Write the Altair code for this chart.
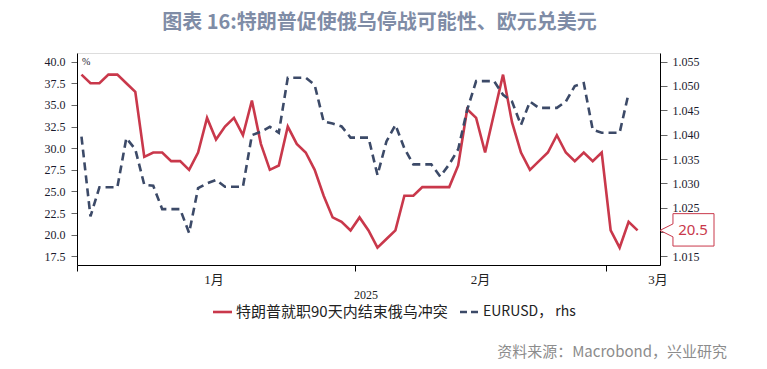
import altair as alt
import pandas as pd

# ---------------- data ----------------
dates = [f"{d:%Y-%m-%d}T12:00:00" for d in pd.date_range("2025-01-01", periods=63, freq="D")]

polymarket = [38.5, 37.5, 37.5, 38.5, 38.5, 37.5, 36.5, 29.0, 29.5, 29.5,
              28.5, 28.5, 27.5, 29.5, 33.5, 31.0, 32.5, 33.5, 31.5, 35.5,
              30.5, 27.5, 28.0, 32.5, 30.5, 29.5, 27.5, 24.5, 22.0, 21.5,
              20.5, 22.0, 20.5, 18.5, 19.5, 20.5, 24.5, 24.5, 25.5, 25.5,
              25.5, 25.5, 28.0, 34.5, 33.5, 29.5, 34.0, 38.5, 33.0, 29.5,
              27.5, 28.5, 29.5, 31.5, 29.5, 28.5, 29.5, 28.5, 29.5, 20.5,
              18.5, 21.5, 20.5]

eurusd = [1.0396, 1.0232, 1.0292, 1.0292, 1.0292, 1.0393, 1.0370, 1.0297, 1.0295, 1.0247,
          1.0247, 1.0247, 1.0198, 1.0290, 1.0300, 1.0307, 1.0293, 1.0293, 1.0293, 1.0399,
          1.0406, 1.0416, 1.0404, 1.0517, 1.0517, 1.0517, 1.0502, 1.0427, 1.0423, 1.0417,
          1.0394, 1.0394, 1.0394, 1.0317, 1.0386, 1.0420, 1.0372, 1.0339, 1.0339, 1.0339,
          1.0314, 1.0339, 1.0370, 1.0451, 1.0510, 1.0510, 1.0510, 1.0482, 1.0468, 1.0420,
          1.0468, 1.0455, 1.0455, 1.0455, 1.0468, 1.0500, 1.0506, 1.0410, 1.0404, 1.0404,
          1.0404, 1.0485, None]

month_labels = ["1月", "2月", "3月"]
month_label_pos = ["2025-01-16T06:30:00", "2025-02-15T00:00:00", "2025-03-06T18:30:00"]

left_ticks = [17.5, 20.0, 22.5, 25.0, 27.5, 30.0, 32.5, 35.0, 37.5, 40.0]
right_ticks = [1.015, 1.020, 1.025, 1.030, 1.035, 1.040, 1.045, 1.050, 1.055]

title_text = "图表 16:特朗普促使俄乌停战可能性、欧元兑美元"
series1_name = "特朗普就职90天内结束俄乌冲突"
series2_name = "EURUSD， rhs"
source_text = "资料来源：Macrobond，兴业研究"
year_text = "2025"

# ---------------- styles ----------------
RED = "#c9384b"
NAVY = "#3c4a68"
SERIF = "Liberation Serif, Noto Sans CJK SC"
CJK = "Noto Sans CJK SC"

df = pd.DataFrame({"date": dates, "pm": polymarket, "eur": eurusd})
last_df = pd.DataFrame({"pm": [polymarket[-1]], "label": [f"{polymarket[-1]}"]})
month_df = pd.DataFrame({"m": month_labels, "d": month_label_pos})
one = pd.DataFrame({"a": [0]})

x_dom = [alt.DateTime(year=2025, month=1, date=1), alt.DateTime(year=2025, month=3, date=7)]
x_scale = alt.Scale(domain=x_dom)
x_axis = alt.Axis(
    title=None, labels=False, grid=False, domainColor="#000", tickColor="#000",
    tickSize=6, values=[alt.DateTime(year=2025, month=m, date=1) for m in (1, 2, 3)],
)

left_scale = alt.Scale(domain=[16.5, 41.0], nice=False, zero=False)
right_scale = alt.Scale(domain=[1.0132222, 1.0567778], nice=False, zero=False)

left_axis = alt.Axis(
    title=None, values=left_ticks, format=".1f", grid=False, domainColor="#000",
    tickColor="#666", tickSize=6, labelPadding=6, labelFont=SERIF, labelFontSize=12,
    labelColor="#1a1a2e", labelOverlap=False, labelFlush=False)
left_y = alt.Y("pm:Q", scale=left_scale, axis=left_axis)

red_line = alt.Chart(df).mark_line(color=RED, strokeWidth=2.6).encode(
    x=alt.X("date:T", scale=x_scale, axis=x_axis), y=left_y)

callout_box = alt.Chart(last_df).mark_point(
    shape="M -1 0 L -0.52 -0.24 L -0.52 -0.62 L 1 -0.62 L 1 0.58 L -0.52 0.58 L -0.52 0.24 Z",
    size=2916, filled=True, fill="white", stroke=RED, strokeWidth=1, opacity=1,
).encode(x=alt.value(610), y=left_y)

callout_text = alt.Chart(last_df).mark_text(
    color=RED, fontSize=15, font="Noto Sans", align="center", baseline="middle"
).encode(x=alt.value(616), y=left_y, text="label:N")

left_group = alt.layer(red_line, callout_box, callout_text)

navy_line = alt.Chart(df).mark_line(color=NAVY, strokeWidth=2.6, strokeDash=[8, 5]).encode(
    x=alt.X("date:T", scale=x_scale, axis=x_axis),
    y=alt.Y("eur:Q", scale=right_scale, axis=alt.Axis(
        orient="right", title=None, values=right_ticks, format=".3f", grid=False,
        domainColor="#000", tickColor="#666", tickSize=7, labelPadding=5, labelFont=SERIF,
        labelFontSize=12, labelColor="#1a1a2e", labelOverlap=False, labelFlush=False)),
)

months = alt.Chart(month_df).mark_text(
    font=SERIF, fontSize=13, color="#222", baseline="middle", align="center"
).encode(x=alt.X("d:T", scale=x_scale), y=alt.value(227), text="m:N")

def label(text, x, y, **kw):
    return alt.Chart(one).mark_text(**kw).encode(x=alt.value(x), y=alt.value(y), text=alt.value(text))

pct = label("%", 5, 9, font=SERIF, fontSize=10, color="#1a1a2e", align="left", baseline="middle")
year = label(year_text, 289, 242, font=SERIF, fontSize=12, color="#222", align="center", baseline="middle")
leg1_text = label(series1_name, 159, 259, font=CJK, fontSize=15, color="#222", align="left", baseline="middle")
leg2_text = label(series2_name, 406, 259, font=CJK, fontSize=14, color="#222", align="left", baseline="middle")
source = label(source_text, 650, 299, font=CJK, fontSize=15, color="#8c8c8c", align="right", baseline="middle")

leg1_line = alt.Chart(one).mark_rule(color=RED, strokeWidth=2.6).encode(
    x=alt.value(136), x2=alt.value(155), y=alt.value(259))
leg2_line = alt.Chart(one).mark_rule(color=NAVY, strokeWidth=2.6, strokeDash=[7, 4]).encode(
    x=alt.value(383), x2=alt.value(402), y=alt.value(259))

chart = alt.layer(
    left_group, navy_line, months, pct, year,
    leg1_line, leg1_text, leg2_line, leg2_text, source,
).resolve_scale(y="independent").properties(
    width=583, height=212,
    autosize=alt.AutoSizeParams(type="none"),
    padding={"left": 69, "top": 45, "right": 99, "bottom": 96},
    title=alt.TitleParams(
        title_text, anchor="middle", frame="group", dx=11, offset=10,
        font=CJK, fontSize=20, fontWeight="bold", color="#7f8ca6", baseline="middle"),
).configure_view(strokeWidth=0).configure_axis(labelOverlap=False).configure(background="white")

chart.save("out.html", embed_options={"renderer": "svg", "actions": False})
